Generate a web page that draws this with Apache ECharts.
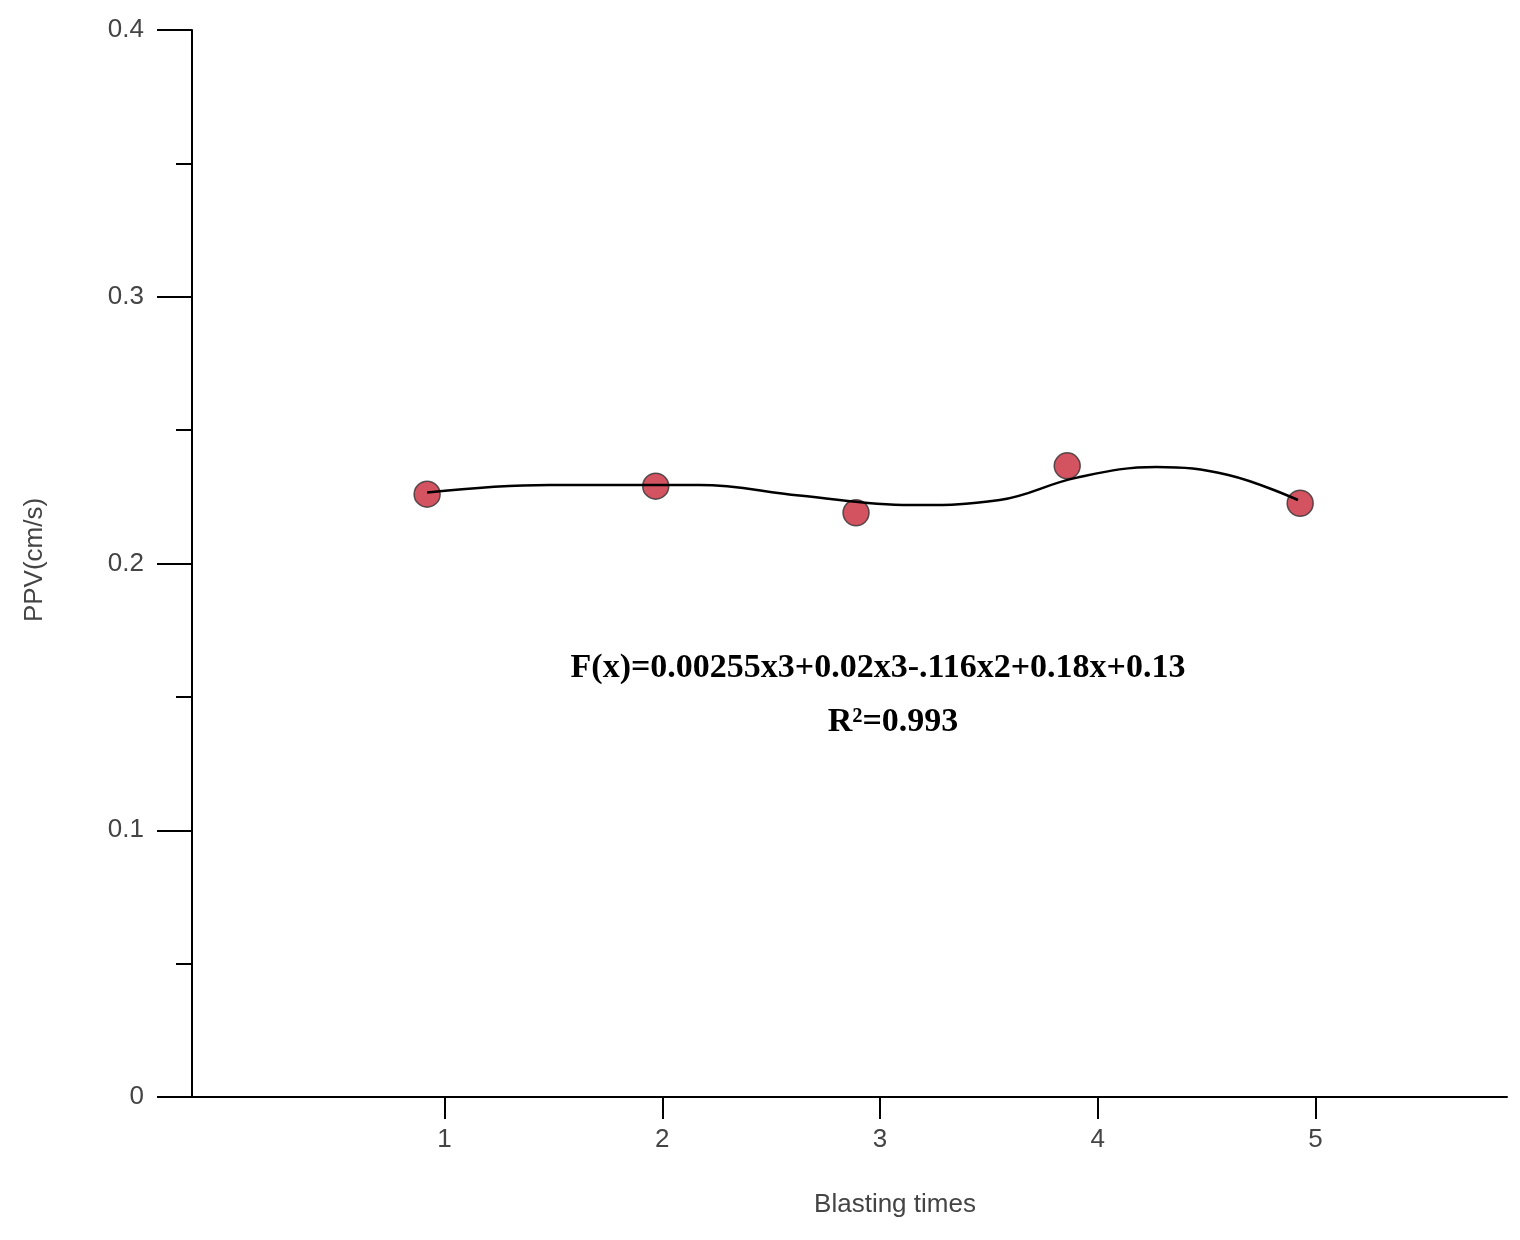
<!DOCTYPE html>
<html><head><meta charset="utf-8">
<script src="https://cdn.jsdelivr.net/npm/echarts@6/dist/echarts.min.js"></script>
<style>html,body{margin:0;background:#fff}#c{width:1520px;height:1240px}</style>
</head><body><div id="c"></div>
<script>
const xTicks=[1,2,3,4,5];
const pointX=[0.92,1.97,2.89,3.86,4.93];
const pointY=[0.226,0.229,0.219,0.2366,0.2226];
const curveX=[0.92,1.48,2.17,2.63,3.14,3.55,3.90,4.27,4.60,4.92];
const curveY=[0.2266,0.2294,0.2294,0.2255,0.2219,0.2238,0.2321,0.2362,0.2332,0.2238];
const chart=echarts.init(document.getElementById('c'));
chart.setOption({
 animation:false,
 grid:{left:192,right:13,top:30,bottom:143},
 xAxis:{type:'value',min:-0.16,max:5.88,
  axisLine:{onZero:false,lineStyle:{color:'#000',width:2}},
  axisTick:{show:true,customValues:xTicks,length:22,inside:false,lineStyle:{color:'#000',width:2}},
  axisLabel:{customValues:xTicks,fontSize:26,color:'#444',margin:30,fontFamily:'Liberation Sans'},
  splitLine:{show:false}},
 yAxis:{type:'value',min:0,max:0.4,interval:0.1,
  axisLine:{show:true,onZero:false,lineStyle:{color:'#000',width:2}},
  axisTick:{show:true,length:35,lineStyle:{color:'#000',width:2}},
  minorTick:{show:true,splitNumber:2,length:16,lineStyle:{color:'#000',width:2}},
  axisLabel:{fontSize:26,color:'#444',margin:48,fontFamily:'Liberation Sans'},
  splitLine:{show:false}},
 series:[
  {type:'line',data:curveX.map((x,i)=>[x,curveY[i]]),smooth:0.4,symbol:'none',lineStyle:{color:'#000',width:2.5}},
  {type:'scatter',data:pointX.map((x,i)=>[x,pointY[i]]),symbolSize:26,itemStyle:{color:'#c8283a',borderColor:'#333',borderWidth:1.5}}
 ],
 graphic:[
  {type:'text',style:{text:'F(x)=0.00255x3+0.02x3-.116x2+0.18x+0.13',x:878,y:668,align:'center',verticalAlign:'middle',font:'bold 34px "Liberation Serif"',fill:'#000'}},
  {type:'text',style:{text:'R²=0.993',x:893,y:722,align:'center',verticalAlign:'middle',font:'bold 34px "Liberation Serif"',fill:'#000'}},
  {type:'text',style:{text:'Blasting times',x:895,y:1205,align:'center',verticalAlign:'middle',font:'26px "Liberation Sans"',fill:'#444'}},
  {type:'text',rotation:Math.PI/2,x:35,y:560,style:{text:'PPV(cm/s)',x:0,y:0,align:'center',verticalAlign:'middle',font:'26px "Liberation Sans"',fill:'#444'}}
 ]
});
</script></body></html>
